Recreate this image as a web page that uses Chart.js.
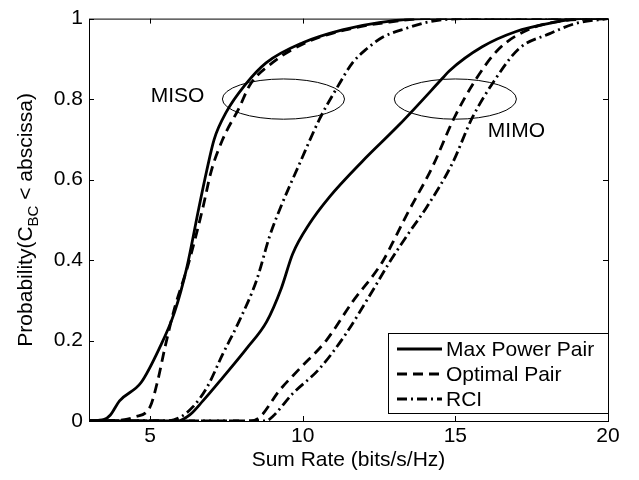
<!DOCTYPE html>
<html>
  <head>
    <meta charset="utf-8">
    <title>Sum rate CDF</title>
  </head>
  <style media="screen">
    html, body { margin: 0; padding: 0; background: #fff; }
    #wrap { width: 639px; height: 480px; }
  </style>
  <body>
    <div id="wrap"><canvas id="grap" width="639" height="480"></canvas></div>
    <script src="https://cdn.jsdelivr.net/npm/chart.js@4.4.0/dist/chart.umd.min.js"></script>
    <script type="text/javascript">
      // values
      let misoMaxX = [3, 3.5, 3.7, 4.0, 4.7, 5.3, 5.8, 6.2, 6.6, 6.85, 7.1, 7.5, 8.1, 8.8, 10.0, 11.3, 12.5, 14, 20];
      let misoMaxY = [0, 0.004, 0.015, 0.05, 0.095, 0.18, 0.27, 0.38, 0.53, 0.62, 0.70, 0.768, 0.834, 0.89, 0.94, 0.972, 0.99, 1, 1];
      let misoOptX = [3, 4.0, 4.5, 5.0, 5.25, 5.48, 5.8, 6.24, 6.73, 7.0, 7.38, 7.93, 8.26, 9.0, 10.1, 11.4, 12.7, 14, 20];
      let misoOptY = [0, 0.002, 0.01, 0.035, 0.10, 0.18, 0.28, 0.386, 0.53, 0.62, 0.70, 0.78, 0.834, 0.89, 0.94, 0.972, 0.99, 1, 1];
      let misoRciX = [3, 5.5, 6.0, 6.4, 6.86, 7.38, 7.93, 8.49, 8.92, 9.27, 9.9, 10.55, 11.2, 11.63, 12.1, 12.6, 13.4, 14.2, 15.5, 20];
      let misoRciY = [0, 0, 0.01, 0.035, 0.083, 0.166, 0.25, 0.35, 0.46, 0.53, 0.64, 0.75, 0.838, 0.89, 0.925, 0.953, 0.976, 0.993, 1, 1];
      let mimoMaxX = [3, 5.9, 6.3, 6.73, 7.38, 8.16, 8.82, 9.3, 9.67, 10.22, 10.88, 11.95, 13.16, 14.57, 14.8, 15.88, 16.99, 18.07, 19.1, 20];
      let mimoMaxY = [0, 0, 0.015, 0.05, 0.108, 0.18, 0.247, 0.33, 0.415, 0.49, 0.557, 0.645, 0.736, 0.851, 0.87, 0.93, 0.968, 0.988, 1, 1];
      let mimoOptX = [3, 8.3, 8.6, 9.24, 9.9, 10.77, 11.63, 12.6, 13.06, 13.39, 14.24, 14.96, 15.68, 16.43, 17.4, 18.4, 20];
      let mimoOptY = [0, 0, 0.01, 0.076, 0.13, 0.2, 0.296, 0.394, 0.46, 0.51, 0.63, 0.753, 0.85, 0.925, 0.973, 0.993, 1];
      let mimoRciX = [3, 8.8, 9.0, 9.67, 10.55, 11.4, 12.18, 12.84, 13.5, 14.05, 14.9, 15.55, 16.27, 17.08, 18.07, 18.95, 20];
      let mimoRciY = [0, 0, 0.01, 0.068, 0.13, 0.215, 0.31, 0.394, 0.47, 0.53, 0.64, 0.753, 0.845, 0.925, 0.962, 0.988, 1];

      let xTicks = [5, 10, 15, 20];
      let yTicks = [0, 0.2, 0.4, 0.6, 0.8, 1];
      let legendNames = ["Max Power Pair", "Optimal Pair", "RCI"];

      // ellipses: centre x, centre y, half width, half height (data units)
      let ellipses = [[9.37, 0.8, 2.0, 0.05], [15.0, 0.8, 2.0, 0.05]];
      let notes = [["MISO", 5.9, 0.807], ["MIMO", 17.0, 0.721]];

      let FONT = "'Liberation Sans', Arial, sans-serif";
      let FS = 21;
      let dashStyle = [[], [10, 6], [10, 4, 2, 4]];

      function pts(xs, ys) {
        return xs.map((x, i) => ({ x: x, y: ys[i] }));
      }

      function serie(xs, ys, kind) {
        return {
          data: pts(xs, ys),
          borderColor: "#000",
          borderWidth: 2.8,
          borderDash: dashStyle[kind],
          pointRadius: 0,
          fill: false,
          cubicInterpolationMode: "monotone"
        };
      }

      let extras = {
        id: "extras",
        afterDatasetsDraw(chart) {
          let ctx = chart.ctx;
          let ca = chart.chartArea;
          let xs = chart.scales.x, ys = chart.scales.y;
          ctx.save();

          // ellipses and notes
          ctx.strokeStyle = "#000";
          ctx.lineWidth = 1;
          ctx.setLineDash([]);
          ellipses.forEach(e => {
            let cx = xs.getPixelForValue(e[0]);
            let cy = ys.getPixelForValue(e[1]);
            let rx = xs.getPixelForValue(e[0] + e[2]) - cx;
            let ry = cy - ys.getPixelForValue(e[1] + e[3]);
            ctx.beginPath();
            ctx.ellipse(cx, cy, rx, ry, 0, 0, Math.PI * 2);
            ctx.stroke();
          });
          ctx.fillStyle = "#000";
          ctx.font = FS + "px " + FONT;
          ctx.textAlign = "center";
          ctx.textBaseline = "middle";
          notes.forEach(n => {
            ctx.fillText(n[0], xs.getPixelForValue(n[1]), ys.getPixelForValue(n[2]));
          });

          // box and inward ticks
          ctx.lineWidth = 1;
          ctx.strokeRect(ca.left + 0.5, ca.top + 0.5, ca.right - ca.left, ca.bottom - ca.top);
          ctx.beginPath();
          xTicks.forEach(v => {
            let p = Math.round(xs.getPixelForValue(v)) + 0.5;
            ctx.moveTo(p, ca.bottom); ctx.lineTo(p, ca.bottom - 5);
            ctx.moveTo(p, ca.top); ctx.lineTo(p, ca.top + 5);
          });
          yTicks.forEach(v => {
            let p = Math.round(ys.getPixelForValue(v)) + 0.5;
            ctx.moveTo(ca.left, p); ctx.lineTo(ca.left + 5, p);
            ctx.moveTo(ca.right, p); ctx.lineTo(ca.right - 5, p);
          });
          ctx.stroke();

          // legend
          let lw = 220, lh = 80;
          let lx = ca.right - lw, ly = ca.bottom - 8 - lh;
          ctx.fillStyle = "#fff";
          ctx.fillRect(lx, ly, lw, lh);
          ctx.strokeStyle = "#000";
          ctx.strokeRect(lx + 0.5, ly + 0.5, lw, lh);
          ctx.textAlign = "left";
          legendNames.forEach((name, i) => {
            let rowY = ly + 16 + i * 25;
            ctx.beginPath();
            ctx.lineWidth = 2.8;
            ctx.setLineDash(dashStyle[i]);
            ctx.moveTo(lx + 9, rowY);
            ctx.lineTo(lx + 54, rowY);
            ctx.stroke();
            ctx.setLineDash([]);
            ctx.fillStyle = "#000";
            ctx.fillText(name, lx + 58, rowY + 1);
          });

          // y title with subscript
          let cy = (ca.top + ca.bottom) / 2;
          ctx.translate(0, cy);
          ctx.rotate(-Math.PI / 2);
          let a = "Probability(C", b = "BC", c = " < abscissa)";
          ctx.font = FS + "px " + FONT;
          let wa = ctx.measureText(a).width, wc = ctx.measureText(c).width;
          ctx.font = "15px " + FONT;
          let wb = ctx.measureText(b).width;
          let x0 = -(wa + wb + wc) / 2;
          ctx.textBaseline = "alphabetic";
          ctx.font = FS + "px " + FONT;
          ctx.fillText(a, x0, 32);
          ctx.font = "15px " + FONT;
          ctx.fillText(b, x0 + wa, 38);
          ctx.font = FS + "px " + FONT;
          ctx.fillText(c, x0 + wa + wb, 32);
          ctx.restore();
        }
      };

      let grafico = new Chart(document.querySelector("#grap"), {
        type: "line",
        data: {
          datasets: [
            serie(misoMaxX, misoMaxY, 0),
            serie(misoOptX, misoOptY, 1),
            serie(misoRciX, misoRciY, 2),
            serie(mimoMaxX, mimoMaxY, 0),
            serie(mimoOptX, mimoOptY, 1),
            serie(mimoRciX, mimoRciY, 2)
          ]
        },
        plugins: [extras],
        options: {
          responsive: false,
          animation: false,
          layout: { padding: { top: 12, right: 31, left: 0, bottom: 0 } },
          plugins: { legend: { display: false }, tooltip: { enabled: false } },
          scales: {
            x: {
              type: "linear",
              min: 3,
              max: 20,
              afterBuildTicks: s => { s.ticks = xTicks.map(v => ({ value: v })); },
              afterFit: s => { s.height = 59; },
              grid: { display: false, drawTicks: false },
              border: { display: false },
              ticks: { color: "#000", font: { family: FONT, size: FS }, padding: 3, maxRotation: 0 },
              title: {
                display: true,
                text: "Sum Rate (bits/s/Hz)",
                color: "#000",
                font: { family: FONT, size: FS },
                padding: { top: 0, bottom: 7 }
              }
            },
            y: {
              type: "linear",
              min: 0,
              max: 1,
              afterBuildTicks: s => { s.ticks = yTicks.map(v => ({ value: v })); },
              afterFit: s => { s.width = 89; },
              grid: { display: false, drawTicks: false },
              border: { display: false },
              ticks: { color: "#000", font: { family: FONT, size: FS }, padding: 6, callback: v => String(v) }
            }
          }
        }
      });
    </script>
  </body>
</html>
